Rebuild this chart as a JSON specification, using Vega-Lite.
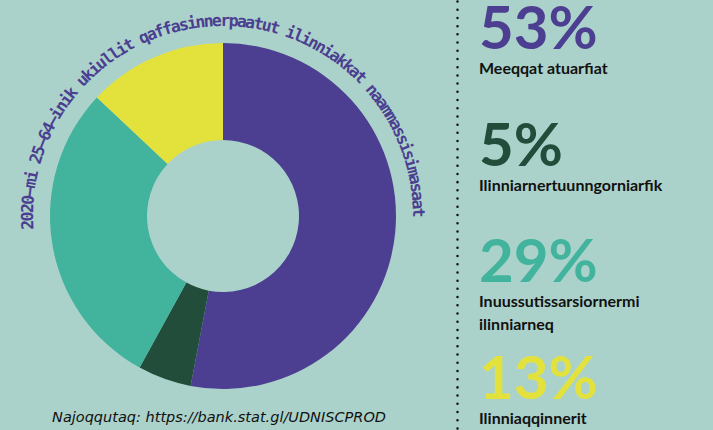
{
  "$schema": "https://vega.github.io/schema/vega-lite/v6.json",
  "background": "#abd2ca",
  "padding": 0,
  "spacing": 33,
  "bounds": "flush",
  "config": {"view": {"stroke": null}, "font": "Lato"},
  "datasets": {
    "parts": [
      {"label": "Meeqqat atuarfiat", "share": 0.53, "order": 1},
      {"label": "Ilinniarnertuunngorniarfik", "share": 0.05, "order": 2},
      {"label": "Inuussutissarsiornermi\nilinniarneq", "share": 0.29, "order": 3},
      {"label": "Ilinniaqqinnerit", "share": 0.13, "order": 4}
    ],
    "arcText": [
      {"i": 0, "ch": "2"}, {"i": 1, "ch": "0"}, {"i": 2, "ch": "2"}, {"i": 3, "ch": "0"}, {"i": 4, "ch": "–"},
      {"i": 5, "ch": "m"}, {"i": 6, "ch": "i"}, {"i": 7, "ch": " "}, {"i": 8, "ch": "2"}, {"i": 9, "ch": "5"},
      {"i": 10, "ch": "–"}, {"i": 11, "ch": "6"}, {"i": 12, "ch": "4"}, {"i": 13, "ch": "–"}, {"i": 14, "ch": "i"},
      {"i": 15, "ch": "n"}, {"i": 16, "ch": "i"}, {"i": 17, "ch": "k"}, {"i": 18, "ch": " "}, {"i": 19, "ch": "u"},
      {"i": 20, "ch": "k"}, {"i": 21, "ch": "i"}, {"i": 22, "ch": "u"}, {"i": 23, "ch": "l"}, {"i": 24, "ch": "l"},
      {"i": 25, "ch": "i"}, {"i": 26, "ch": "t"}, {"i": 27, "ch": " "}, {"i": 28, "ch": "q"}, {"i": 29, "ch": "a"},
      {"i": 30, "ch": "f"}, {"i": 31, "ch": "f"}, {"i": 32, "ch": "a"}, {"i": 33, "ch": "s"}, {"i": 34, "ch": "i"},
      {"i": 35, "ch": "n"}, {"i": 36, "ch": "n"}, {"i": 37, "ch": "e"}, {"i": 38, "ch": "r"}, {"i": 39, "ch": "p"},
      {"i": 40, "ch": "a"}, {"i": 41, "ch": "a"}, {"i": 42, "ch": "t"}, {"i": 43, "ch": "u"}, {"i": 44, "ch": "t"},
      {"i": 45, "ch": " "}, {"i": 46, "ch": "i"}, {"i": 47, "ch": "l"}, {"i": 48, "ch": "i"}, {"i": 49, "ch": "n"},
      {"i": 50, "ch": "n"}, {"i": 51, "ch": "i"}, {"i": 52, "ch": "a"}, {"i": 53, "ch": "k"}, {"i": 54, "ch": "k"},
      {"i": 55, "ch": "a"}, {"i": 56, "ch": "t"}, {"i": 57, "ch": " "}, {"i": 58, "ch": "n"}, {"i": 59, "ch": "a"},
      {"i": 60, "ch": "a"}, {"i": 61, "ch": "m"}, {"i": 62, "ch": "m"}, {"i": 63, "ch": "a"}, {"i": 64, "ch": "s"},
      {"i": 65, "ch": "s"}, {"i": 66, "ch": "i"}, {"i": 67, "ch": "s"}, {"i": 68, "ch": "i"}, {"i": 69, "ch": "m"},
      {"i": 70, "ch": "a"}, {"i": 71, "ch": "s"}, {"i": 72, "ch": "a"}, {"i": 73, "ch": "a"}, {"i": 74, "ch": "t"}
    ]
  },
  "hconcat": [
    {
      "width": 446,
      "height": 430,
      "title": {
        "text": "Najoqqutaq: https://bank.stat.gl/UDNISCPROD",
        "orient": "bottom",
        "anchor": "middle",
        "frame": "group",
        "offset": -9,
        "baseline": "alphabetic",
        "dx": -4,
        "font": "DejaVu Sans",
        "fontSize": 14.5,
        "fontStyle": "italic",
        "fontWeight": "normal",
        "color": "#111111"
      },
      "layer": [
        {
          "data": {"name": "parts"},
          "mark": {"type": "arc", "innerRadius": 76, "outerRadius": 173},
          "encoding": {
            "theta": {"field": "share", "type": "quantitative", "stack": true},
            "order": {"field": "order", "type": "quantitative"},
            "color": {
              "field": "label",
              "type": "nominal",
              "scale": {
                "domain": ["Meeqqat atuarfiat", "Ilinniarnertuunngorniarfik", "Inuussutissarsiornermi\nilinniarneq", "Ilinniaqqinnerit"],
                "range": ["#4c3f91", "#214d3a", "#42b39c", "#e3e23d"]
              },
              "legend": null
            }
          }
        },
        {
          "data": {"name": "arcText"},
          "mark": {"type": "text", "radius": 190, "align": "center", "baseline": "alphabetic", "font": "DejaVu Sans Mono", "fontSize": 16.5, "fontWeight": "bold", "color": "#4c3f91"},
          "encoding": {
            "theta": {"field": "i", "type": "quantitative", "scale": {"domain": [0, 74], "range": [4.667, 7.837]}},
            "angle": {"field": "i", "type": "quantitative", "scale": {"domain": [0, 74], "range": [267.4, 449]}},
            "text": {"field": "ch"}
          }
        }
      ],
      "resolve": {"scale": {"theta": "independent"}}
    },
    {
      "width": 234,
      "height": 430,
      "data": {"name": "parts"},
      "encoding": {
        "y": {
          "field": "label",
          "type": "nominal",
          "sort": {"field": "order", "op": "min"},
          "scale": {"type": "point", "padding": 0.3423, "align": 0.6},
          "axis": {
            "orient": "left",
            "offset": 22,
            "labels": false,
            "ticks": false,
            "title": null,
            "grid": false,
            "domainColor": "#111111",
            "domainWidth": 2.5,
            "domainDash": [0.01, 8.2],
            "domainCap": "round"
          }
        }
      },
      "layer": [
        {
          "mark": {"type": "text", "align": "left", "baseline": "alphabetic", "font": "Lato", "fontSize": 60, "fontWeight": "bold"},
          "encoding": {
            "x": {"value": 0},
            "text": {"field": "share", "type": "quantitative", "format": ".0%"},
            "color": {"field": "label", "type": "nominal", "legend": null}
          }
        },
        {
          "mark": {"type": "text", "align": "left", "baseline": "alphabetic", "dy": 25, "font": "Lato", "fontSize": 16, "fontWeight": "bold", "lineBreak": "\n", "lineHeight": 23, "color": "#111111"},
          "encoding": {
            "x": {"value": 0},
            "text": {"field": "label", "type": "nominal"}
          }
        }
      ]
    }
  ]
}
